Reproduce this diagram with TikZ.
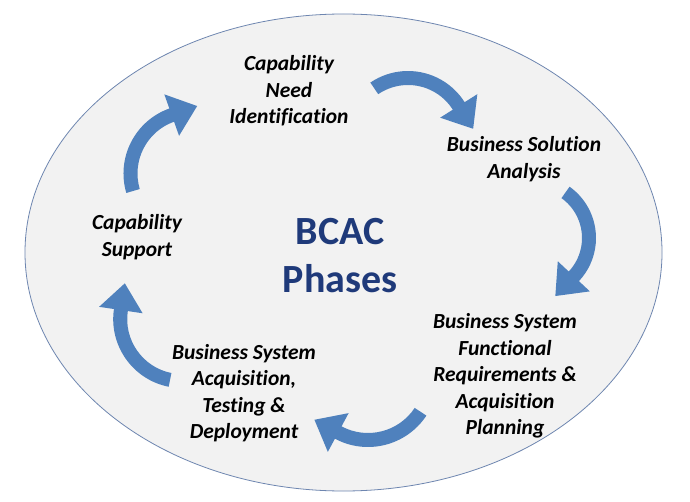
\documentclass[tikz,border=0pt]{standalone}
\usepackage{fontspec}
\setmainfont{Carlito}[Ligatures=NoCommon]
\usetikzlibrary{shapes.geometric}
\definecolor{arrowblue}{RGB}{79,129,189}
\definecolor{titleblue}{RGB}{31,58,122}
\definecolor{ellfill}{RGB}{242,242,242}
\definecolor{ellline}{RGB}{110,134,176}
\def\bcBW{14}
\def\bcHW{44}
\def\bcHL{27}
% #1 cx, #2 cy, #3 radius, #4 tail angle, #5 head-base angle, #6 direction (+1 ccw, -1 cw)
\newcommand{\bcarrow}[6]{%
  \pgfmathsetmacro{\bcRo}{#3+\bcBW/2}%
  \pgfmathsetmacro{\bcRi}{#3-\bcBW/2}%
  \pgfmathsetmacro{\bcHo}{#3+\bcHW/2}%
  \pgfmathsetmacro{\bcHi}{#3-\bcHW/2}%
  \pgfmathsetmacro{\bcTa}{#5+#6*90}%
  \pgfmathsetmacro{\bcTx}{#3*cos(#5)+\bcHL*cos(\bcTa)}%
  \pgfmathsetmacro{\bcTy}{#3*sin(#5)+\bcHL*sin(\bcTa)}%
  \fill[arrowshape, shift={(#1,#2)}]
    (#4:\bcRo) arc[start angle=#4, end angle=#5, radius=\bcRo]
    -- (#5:\bcHo) -- (\bcTx,\bcTy) -- (#5:\bcHi) -- (#5:\bcRi)
    arc[start angle=#5, end angle=#4, radius=\bcRi] -- cycle;
}
\begin{document}
\begin{tikzpicture}[x=1pt,y=1pt,
  arrowshape/.style={fill=arrowblue},
  phase/.style={align=center, inner sep=0pt, text=black,
    font=\fontsize{21.5}{26.5}\selectfont\bfseries\itshape},
  title/.style={align=center, inner sep=0pt, text=titleblue,
    font=\fontsize{40}{48}\selectfont\bfseries}]
\useasboundingbox (0,0) rectangle (690,501);
\fill[white] (0,0) rectangle (690,501);
\node[ellipse, draw=ellline, line width=0.8pt, fill=ellfill, inner sep=0pt,
  minimum width=637pt, minimum height=477pt] (ell) at (343.5,248.5) {};

\bcarrow{408}{363}{60}{124.2}{32.3}{-1}
\bcarrow{533}{263}{56}{54.5}{-43.2}{-1}
\bcarrow{368}{124}{63}{-33.5}{-118.2}{-1}
\bcarrow{182.2}{181.9}{62}{-101.3}{-188.4}{-1}
\bcarrow{192.5}{327.5}{62}{196.4}{109.6}{-1}

\node[phase] (need) at (289,410) {Capability\\Need\\Identification};
\node[phase] (bsa) at (524,342) {Business Solution\\Analysis};
\node[phase] (sup) at (137,264) {Capability\\Support};
\node[title] (bcac) at (340,245) {BCAC\\Phases};
\node[phase] (frq) at (505,125) {Business System\\Functional\\Requirements \&\\Acquisition\\Planning};
\node[phase] (acq) at (244,108) {Business System\\Acquisition,\\Testing \&\\Deployment};
\end{tikzpicture}
\end{document}
